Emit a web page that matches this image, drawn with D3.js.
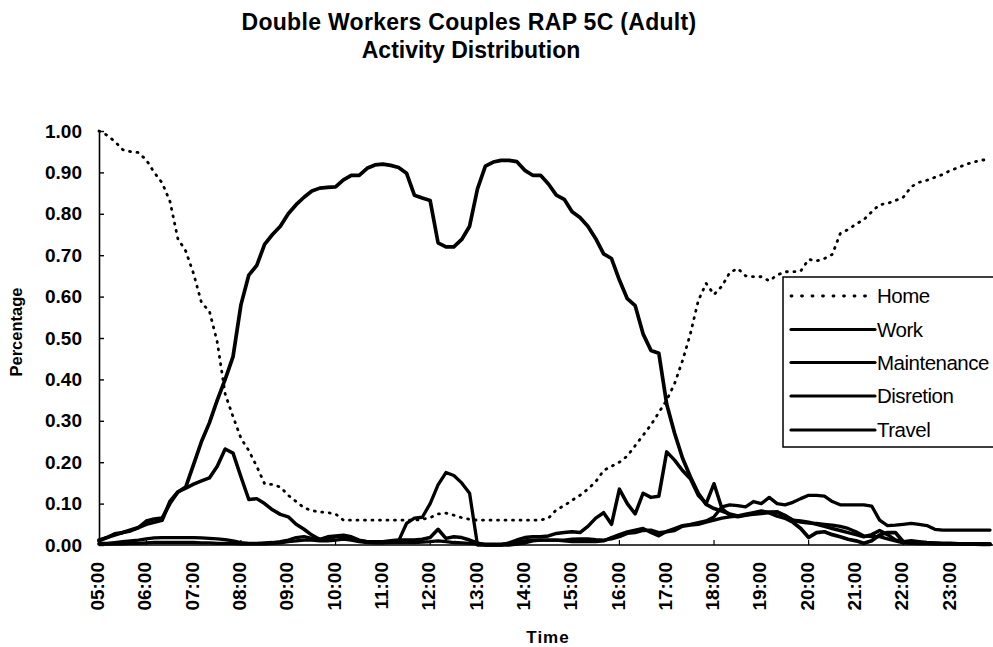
<!DOCTYPE html>
<html>
<head>
<meta charset="utf-8">
<script src="https://cdn.jsdelivr.net/npm/d3@7"></script>
<style>
  html, body { margin: 0; padding: 0; background: #fff; }
  svg { display: block; font-family: "Liberation Sans", Arial, sans-serif; }
</style>
</head>
<body>
<svg id="chart" width="993" height="647"></svg>
<script>
// Hour labels on the time axis
const hourLabels = ["05:00","06:00","07:00","08:00","09:00","10:00","11:00","12:00","13:00",
  "14:00","15:00","16:00","17:00","18:00","19:00","20:00","21:00","22:00","23:00"];
const yTicks = [0, 0.1, 0.2, 0.3, 0.4, 0.5, 0.6, 0.7, 0.8, 0.9, 1.0];
const seriesNames = ["Home", "Work", "Maintenance", "Disretion", "Travel"];

// Share of adults in each activity, every 10 minutes from 05:00 to 23:50
const home = [
  1.0, 0.99, 0.975, 0.955, 0.95, 0.948, 0.93, 0.90, 0.875, 0.83,
  0.74, 0.71, 0.655, 0.585, 0.565, 0.49, 0.365, 0.31, 0.258, 0.228,
  0.19, 0.148, 0.146, 0.14, 0.12, 0.105, 0.09, 0.083, 0.08, 0.078,
  0.075, 0.06, 0.06, 0.06, 0.06, 0.06, 0.06, 0.06, 0.06, 0.06,
  0.06, 0.062, 0.066, 0.075, 0.077, 0.072, 0.066, 0.062, 0.06, 0.06,
  0.06, 0.06, 0.06, 0.06, 0.06, 0.06, 0.06, 0.065, 0.085, 0.095,
  0.108, 0.12, 0.135, 0.153, 0.18, 0.19, 0.2, 0.215, 0.24, 0.265,
  0.29, 0.32, 0.35, 0.39, 0.445, 0.51, 0.59, 0.632, 0.605, 0.625,
  0.658, 0.668, 0.65, 0.648, 0.648, 0.638, 0.652, 0.66, 0.66, 0.662,
  0.69, 0.686, 0.692, 0.702, 0.752, 0.762, 0.775, 0.786, 0.805, 0.822,
  0.825, 0.832, 0.84, 0.865, 0.876, 0.881, 0.888, 0.895, 0.905, 0.912,
  0.92, 0.925, 0.93, 0.93
];
const work = [
  0.01, 0.018, 0.027, 0.03, 0.036, 0.042, 0.05, 0.055, 0.06, 0.105,
  0.128, 0.14, 0.195, 0.25, 0.295, 0.35, 0.40, 0.455, 0.58, 0.652,
  0.675, 0.726, 0.75, 0.77, 0.80, 0.822, 0.84, 0.855, 0.862, 0.864,
  0.865, 0.882, 0.893, 0.893, 0.91, 0.918, 0.92, 0.917, 0.912, 0.898,
  0.845, 0.838, 0.832, 0.73, 0.72, 0.72, 0.738, 0.77, 0.86, 0.915,
  0.925, 0.929, 0.929, 0.926, 0.905, 0.893, 0.893, 0.872, 0.845, 0.835,
  0.805, 0.791, 0.77, 0.74, 0.703, 0.692, 0.64, 0.595, 0.578, 0.51,
  0.47, 0.463, 0.34, 0.27, 0.21, 0.165, 0.125, 0.098, 0.088, 0.082,
  0.075, 0.07, 0.074, 0.078, 0.082, 0.078, 0.07, 0.065, 0.055, 0.04,
  0.018, 0.03, 0.032, 0.025, 0.02, 0.014, 0.01, 0.004, 0.01, 0.024,
  0.03, 0.03, 0.008, 0.005, 0.004, 0.004, 0.004, 0.003, 0.003, 0.003,
  0.002, 0.002, 0.002, 0.002
];
const maintenance = [
  0.004, 0.004, 0.006, 0.008, 0.01, 0.012, 0.015, 0.017, 0.018, 0.018,
  0.018, 0.018, 0.018, 0.017, 0.016, 0.015, 0.013, 0.01, 0.006, 0.004,
  0.004, 0.005, 0.006, 0.008, 0.012, 0.018, 0.02, 0.016, 0.014, 0.02,
  0.022, 0.024, 0.02, 0.012, 0.008, 0.006, 0.006, 0.008, 0.01, 0.052,
  0.065, 0.067, 0.10, 0.145, 0.175, 0.168, 0.15, 0.125, 0.0, 0.0,
  0.0, 0.0, 0.0, 0.002, 0.005, 0.01, 0.012, 0.012, 0.012, 0.012,
  0.014, 0.015, 0.015, 0.013, 0.012, 0.015, 0.02, 0.028, 0.03, 0.035,
  0.036, 0.03, 0.032, 0.035, 0.045, 0.048, 0.05, 0.055, 0.06, 0.065,
  0.068, 0.07, 0.072, 0.074, 0.076, 0.078, 0.08, 0.072, 0.06, 0.055,
  0.053, 0.052, 0.05, 0.048, 0.045, 0.04, 0.032, 0.022, 0.02, 0.02,
  0.015, 0.01, 0.005, 0.004, 0.004, 0.004, 0.003, 0.003, 0.003, 0.003,
  0.003, 0.003, 0.003, 0.003
];
const disretion = [
  0.002, 0.002, 0.003, 0.003, 0.004, 0.004, 0.005, 0.006, 0.006, 0.006,
  0.006, 0.006, 0.006, 0.005, 0.005, 0.004, 0.004, 0.004, 0.003, 0.003,
  0.003, 0.003, 0.004, 0.005, 0.008, 0.01, 0.012, 0.012, 0.01, 0.01,
  0.012, 0.014, 0.012, 0.008, 0.006, 0.005, 0.005, 0.006, 0.006, 0.006,
  0.006, 0.007, 0.008, 0.01, 0.008, 0.006, 0.005, 0.004, 0.003, 0.002,
  0.002, 0.002, 0.004, 0.006, 0.01, 0.012, 0.012, 0.012, 0.012, 0.01,
  0.008, 0.008, 0.008, 0.008, 0.01, 0.018, 0.025, 0.032, 0.036, 0.04,
  0.03, 0.022, 0.033, 0.04, 0.047, 0.05, 0.054, 0.058, 0.068, 0.092,
  0.097, 0.095, 0.092, 0.105, 0.1, 0.115, 0.1, 0.097, 0.103, 0.112,
  0.12, 0.12, 0.118, 0.105, 0.097, 0.097, 0.097, 0.097, 0.094, 0.06,
  0.047, 0.048, 0.05, 0.052, 0.05, 0.047, 0.038, 0.036, 0.036, 0.036,
  0.036, 0.036, 0.036, 0.036
];
const travel = [
  0.012, 0.018, 0.024, 0.03, 0.034, 0.042, 0.058, 0.063, 0.065, 0.1,
  0.128, 0.137, 0.147, 0.155, 0.162, 0.19, 0.232, 0.222, 0.165, 0.11,
  0.112, 0.1, 0.085, 0.074, 0.068, 0.05, 0.038, 0.024, 0.013, 0.016,
  0.02, 0.021, 0.016, 0.01, 0.008, 0.008, 0.008, 0.01, 0.012, 0.012,
  0.012, 0.014, 0.018, 0.038, 0.016, 0.02, 0.018, 0.012, 0.005, 0.0,
  0.0, 0.0, 0.005, 0.012, 0.018, 0.02, 0.02, 0.022, 0.028, 0.03,
  0.032, 0.03, 0.045, 0.065, 0.078, 0.05, 0.135, 0.1, 0.075, 0.125,
  0.115, 0.118, 0.225, 0.205, 0.18, 0.16, 0.12, 0.10, 0.148, 0.088,
  0.072, 0.068, 0.072, 0.076, 0.078, 0.08, 0.08, 0.07, 0.06, 0.058,
  0.055, 0.05, 0.045, 0.04, 0.035, 0.03, 0.025, 0.02, 0.025, 0.035,
  0.025, 0.012, 0.008, 0.01, 0.008, 0.006, 0.005, 0.004, 0.004, 0.003,
  0.002, 0.002, 0.001, 0.001
];

// Sample times in minutes after midnight (05:00, 05:10, ... 23:50)
const times = d3.range(home.length).map(i => 300 + 10 * i);
const hourMinutes = hourLabels.map(h => +h.slice(0, 2) * 60);

const series = [
  { name: seriesNames[0], values: home, dotted: true, width: 2.8 },
  { name: seriesNames[1], values: work, width: 3.7 },
  { name: seriesNames[2], values: maintenance, width: 3.3 },
  { name: seriesNames[3], values: disretion, width: 3.3 },
  { name: seriesNames[4], values: travel, width: 3.5 }
];

const svg = d3.select("#chart");
const x = d3.scaleLinear().domain([300, 1430]).range([99, 990]);
const y = d3.scaleLinear().domain([0, 1]).range([545, 131]);

// Title
const title = svg.append("g").attr("font-weight", "bold").attr("font-size", 23)
  .attr("text-anchor", "middle").attr("fill", "#000");
title.append("text").attr("x", 469).attr("y", 30).attr("letter-spacing", 0.3)
  .text("Double Workers Couples RAP 5C (Adult)");
title.append("text").attr("x", 471).attr("y", 58).text("Activity Distribution");

// Y axis
const yAxis = svg.append("g").attr("transform", "translate(99,0)")
  .call(d3.axisLeft(y).tickValues(yTicks).tickFormat(d3.format(".2f"))
    .tickSizeInner(-5).tickSizeOuter(0).tickPadding(17));
yAxis.select(".domain").attr("stroke", "#000").attr("stroke-width", 1.6);
yAxis.selectAll(".tick line").attr("stroke", "#000").attr("stroke-width", 1.4);
yAxis.selectAll(".tick text").attr("font-size", 19).attr("font-weight", "bold")
  .attr("fill", "#000").attr("font-family", "Liberation Sans, Arial, sans-serif");

// X axis: hour labels, rotated
const xAxis = svg.append("g").attr("transform", "translate(0,545)")
  .call(d3.axisBottom(x).tickValues(hourMinutes).tickFormat((d, i) => hourLabels[i])
    .tickSize(0).tickSizeOuter(0));
xAxis.select(".domain").remove();
xAxis.selectAll(".tick text")
  .attr("font-size", 19).attr("font-weight", "bold").attr("fill", "#000")
  .attr("font-family", "Liberation Sans, Arial, sans-serif")
  .attr("text-anchor", "end")
  .attr("transform", "translate(-2,0) rotate(-90)")
  .attr("x", -17).attr("y", 0).attr("dy", "0.35em");
svg.append("line").attr("x1", 99).attr("x2", 993).attr("y1", 545).attr("y2", 545)
  .attr("stroke", "#000").attr("stroke-width", 1.6);
// small inward ticks every two hours
svg.append("g").selectAll("line")
  .data(hourMinutes.filter(m => (m / 60) % 2 === 0))
  .join("line")
  .attr("x1", d => x(d)).attr("x2", d => x(d))
  .attr("y1", 545).attr("y2", 540)
  .attr("stroke", "#000").attr("stroke-width", 1.2);

// Axis titles
svg.append("text").attr("transform", "translate(22,332) rotate(-90)")
  .attr("text-anchor", "middle").attr("font-weight", "bold").attr("font-size", 16.5)
  .attr("fill", "#000").text("Percentage");
svg.append("text").attr("x", 548).attr("y", 643).attr("text-anchor", "middle")
  .attr("font-weight", "bold").attr("font-size", 17).attr("letter-spacing", 1)
  .attr("fill", "#000").text("Time");

// Activity lines
const line = d3.line()
  .x((d, i) => x(times[i]))
  .y(d => y(d))
  .curve(d3.curveLinear);

svg.append("g").selectAll("path")
  .data(series)
  .join("path")
  .attr("d", s => line(s.values))
  .attr("fill", "none")
  .attr("stroke", "#000")
  .attr("stroke-width", s => s.width)
  .attr("stroke-linejoin", "round")
  .attr("stroke-linecap", "round")
  .attr("stroke-dasharray", s => s.dotted ? "1,6.5" : null);

// Legend
const legend = svg.append("g");
legend.append("rect").attr("x", 783).attr("y", 277).attr("width", 220).attr("height", 170)
  .attr("fill", "#fff").attr("stroke", "#000").attr("stroke-width", 1.5);
const rowY = [296, 329.5, 362.5, 396, 430];
const items = legend.selectAll("g.item").data(series).join("g").attr("class", "item")
  .attr("transform", (d, i) => `translate(0,${rowY[i]})`);
items.append("line").attr("x1", 791).attr("x2", 875).attr("y1", 0).attr("y2", 0)
  .attr("stroke", "#000").attr("stroke-width", d => d.dotted ? 2.8 : 3.2)
  .attr("stroke-linecap", "round")
  .attr("stroke-dasharray", d => d.dotted ? "1,9.5" : null);
items.append("text").attr("x", 877).attr("y", 0).attr("dy", "0.36em")
  .attr("font-size", 20.5).attr("fill", "#000").attr("letter-spacing", -0.5)
  .text(d => d.name);
</script>
</body>
</html>
